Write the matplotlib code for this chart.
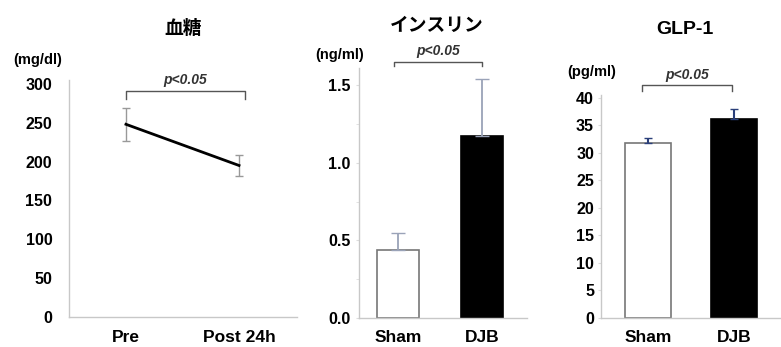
import numpy as np
import matplotlib.pyplot as plt

plt.rcParams['font.family'] = ['Liberation Sans', 'Noto Sans CJK JP', 'DejaVu Sans']
plt.rcParams['font.weight'] = 'bold'

# 血糖
bg_labels = ['Pre', 'Post 24h']
bg_mean = [248, 195]
bg_err = [21, 14]

# インスリン
ins_labels = ['Sham', 'DJB']
ins_mean = [0.44, 1.17]
ins_err = [0.11, 0.37]

# GLP-1
glp_labels = ['Sham', 'DJB']
glp_mean = [31.8, 36.2]
glp_err = [0.8, 1.7]

W, H = 781, 347
fig = plt.figure(figsize=(W / 100, H / 100), dpi=100)


def ax_at(x0, y0, x1, y1):
    return fig.add_axes([x0 / W, 1 - y1 / H, (x1 - x0) / W, (y1 - y0) / H])


def style(ax):
    for s in ['top', 'right']:
        ax.spines[s].set_visible(False)
    for s in ['left', 'bottom']:
        ax.spines[s].set_color('#c8c8c8')
        ax.spines[s].set_linewidth(1.0)
    ax.tick_params(axis='x', length=0, pad=9, labelsize=12.5)


def bracket(ax, x0, x1, y, drop, ty):
    ax.plot([x0, x0, x1, x1], [y - drop, y, y, y - drop], color='#555555', lw=1.0,
            clip_on=False)
    ax.text((x0 + x1) / 2, ty, 'p<0.05', ha='center', va='center', fontsize=10,
            style='italic', fontweight='bold', color='#333333')


# panel 1
ax1 = ax_at(69, 80, 297, 317)
x = np.arange(len(bg_labels))
ax1.errorbar(x, bg_mean, yerr=bg_err, color='black', lw=2, ecolor='#999999',
             elinewidth=1, capsize=3)
ax1.set_ylim(0, 305)
ax1.set_xlim(-0.504, 1.513)
ax1.set_yticks(np.arange(0, 301, 50))
ax1.set_xticks(x)
ax1.set_xticklabels(bg_labels)
style(ax1)
ax1.tick_params(axis='y', length=0, pad=12, labelsize=11.5)
bracket(ax1, 0, 1.05, 291, 11, 305)
fig.text(183 / W, 1 - 28 / H, '血糖', ha='center', va='center', fontsize=13.5,
         fontweight='bold', family=['Noto Sans CJK JP'])
fig.text(38 / W, 1 - 60 / H, '(mg/dl)', ha='center', va='center', fontsize=10.5)

# panel 2
ax2 = ax_at(359, 68, 527, 318)
x = np.arange(len(ins_labels))
ax2.bar(x, ins_mean, width=0.51, color=['white', 'black'], edgecolor=['#777777', 'black'],
        lw=1.2)
ax2.errorbar(x, ins_mean, yerr=[[0, 0], ins_err], fmt='none', ecolor='#9aa3b8',
             elinewidth=1.3, capsize=5)
ax2.set_ylim(0, 1.61)
ax2.set_xlim(-0.464, 1.536)
ax2.set_yticks([0, 0.5, 1.0, 1.5])
ax2.set_yticklabels(['0.0', '0.5', '1.0', '1.5'])
ax2.set_yticks([0.25, 0.75, 1.25], minor=True)
ax2.set_xticks(x)
ax2.set_xticklabels(ins_labels)
style(ax2)
ax2.tick_params(axis='y', which='both', length=2, color='#dddddd', pad=4, labelsize=11.5)
bracket(ax2, -0.05, 1.0, 1.65, 0.03, 1.72)
fig.text(437 / W, 1 - 25 / H, 'インスリン', ha='center', va='center', fontsize=13.5,
         fontweight='bold', family=['Noto Sans CJK JP'])
fig.text(340 / W, 1 - 55 / H, '(ng/ml)', ha='center', va='center', fontsize=10.5)

# panel 3
ax3 = ax_at(601, 95, 781, 318)
x = np.arange(len(glp_labels))
ax3.bar(x, glp_mean, width=0.54, color=['white', 'black'], edgecolor=['#777777', 'black'],
        lw=1.2)
ax3.errorbar(x, glp_mean, yerr=[[0, 0], glp_err], fmt='none', ecolor='#2a3f7a',
             elinewidth=1.5, capsize=3)
ax3.set_ylim(0, 40.5)
ax3.set_xlim(-0.547, 1.547)
ax3.set_yticks(np.arange(0, 41, 5))
ax3.set_xticks(x)
ax3.set_xticklabels(glp_labels)
style(ax3)
ax3.tick_params(axis='y', length=2, color='#dddddd', pad=3, labelsize=11.5)
bracket(ax3, -0.07, 0.98, 42.3, 1.0, 44.2)
fig.text(685 / W, 1 - 30 / H, 'GLP-1', ha='center', va='center', fontsize=14,
         fontweight='bold')
fig.text(592 / W, 1 - 72 / H, '(pg/ml)', ha='center', va='center', fontsize=10.5)

fig.savefig('out.png', dpi=100)
